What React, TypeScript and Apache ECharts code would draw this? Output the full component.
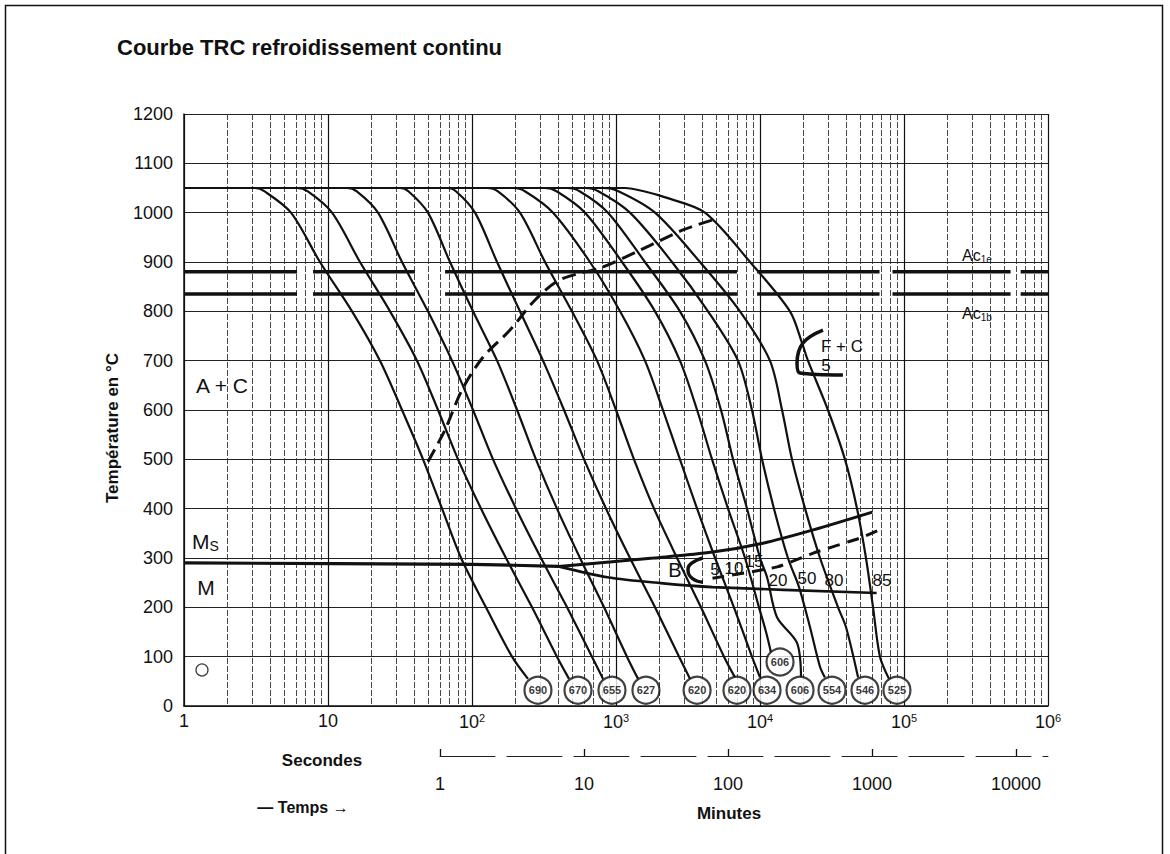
import React, { useEffect, useRef } from "react";
import * as echarts from "echarts";

const FONT = "'Liberation Sans', Arial, Helvetica, sans-serif";

// Axes
const tempMin = 0;
const tempMax = 1200;
const tempStep = 100;
const secMin = 1;
const secMax = 1e6;
const minuteMin = 1;
const minuteMax = 1e6 / 60;
const minuteTicks = [1, 10, 100, 1000, 10000];

// Cooling curves: [log10(time in seconds), temperature °C]
const curve690 = [[0, 1050], [0.493, 1050], [0.56, 1043], [0.743, 1000], [0.944, 900], [1.167, 800], [1.361, 700], [1.514, 600], [1.66, 500], [1.792, 400], [1.924, 300], [2.097, 200], [2.278, 100], [2.389, 55]];
const curve670 = [[0, 1050], [0.785, 1050], [0.86, 1043], [1.028, 1000], [1.222, 900], [1.431, 800], [1.618, 700], [1.764, 600], [1.903, 500], [2.063, 400], [2.236, 300], [2.417, 200], [2.59, 100], [2.674, 55]];
const curve655 = [[0, 1050], [1.132, 1050], [1.2, 1043], [1.347, 1000], [1.514, 900], [1.694, 800], [1.861, 700], [2.007, 600], [2.146, 500], [2.306, 400], [2.479, 300], [2.66, 200], [2.833, 100], [2.91, 55]];
const curve627 = [[0, 1050], [1.5, 1050], [1.56, 1043], [1.694, 1000], [1.847, 900], [2.007, 800], [2.174, 700], [2.313, 600], [2.444, 500], [2.59, 400], [2.75, 300], [2.917, 200], [3.076, 100], [3.153, 55]];
const curve620a = [[0, 1050], [1.826, 1050], [1.89, 1043], [2.021, 1000], [2.174, 900], [2.333, 800], [2.493, 700], [2.639, 600], [2.778, 500], [2.931, 400], [3.097, 300], [3.271, 200], [3.438, 100], [3.514, 55]];
const curve620b = [[0, 1050], [2.104, 1050], [2.18, 1043], [2.333, 1000], [2.507, 900], [2.694, 800], [2.868, 700], [3.0, 600], [3.125, 500], [3.264, 400], [3.424, 300], [3.59, 200], [3.75, 100], [3.826, 58]];
const curve634 = [[0, 1050], [2.285, 1050], [2.37, 1043], [2.563, 1000], [2.819, 900], [3.028, 800], [3.201, 700], [3.326, 600], [3.444, 500], [3.563, 400], [3.688, 300], [3.819, 200], [3.944, 100], [4.0, 58]];
const curve606a = [[0, 1050], [2.507, 1050], [2.59, 1043], [2.785, 1000], [3.042, 900], [3.271, 800], [3.444, 700], [3.563, 600], [3.667, 500], [3.778, 400], [3.896, 300], [3.993, 200], [4.042, 150], [4.076, 109]];
const curve606b = [[0, 1050], [2.66, 1050], [2.75, 1043], [2.944, 1000], [3.201, 900], [3.444, 800], [3.618, 700], [3.729, 600], [3.813, 500], [3.91, 400], [4.0, 300], [4.049, 261], [4.118, 180], [4.257, 128], [4.285, 58]];
const curve554 = [[0, 1050], [2.785, 1050], [2.88, 1043], [3.097, 1000], [3.389, 900], [3.639, 800], [3.847, 700], [3.944, 600], [4.014, 500], [4.097, 400], [4.194, 300], [4.271, 241], [4.347, 160], [4.417, 79], [4.451, 58]];
const curve546 = [[0, 1050], [2.91, 1050], [3.02, 1043], [3.271, 1000], [3.583, 900], [3.861, 800], [4.069, 700], [4.153, 600], [4.222, 500], [4.313, 400], [4.417, 300], [4.542, 200], [4.597, 160], [4.681, 58]];
const curve525 = [[0, 1050], [3.063, 1050], [3.2, 1043], [3.354, 1030], [3.618, 1000], [3.931, 900], [4.208, 800], [4.292, 736], [4.333, 700], [4.472, 600], [4.59, 500], [4.674, 400], [4.736, 300], [4.785, 200], [4.833, 100], [4.896, 55]];

const curves = [curve690, curve670, curve655, curve627, curve620a, curve620b, curve634, curve606a, curve606b, curve554, curve546, curve525];

// Hardness circles (HV)
const hardnessLabels = ["690", "670", "655", "627", "620", "620", "634", "606", "606", "554", "546", "525"];
const hardnessLogTime = [2.458, 2.736, 2.972, 3.208, 3.563, 3.84, 4.049, 4.139, 4.278, 4.5, 4.729, 4.951];
const hardnessTemp = [32, 32, 32, 32, 32, 32, 32, 89, 32, 32, 32, 32];

// Transformation lines [log10(s), °C]
const carbideStart = [[1.694, 495], [1.813, 560], [1.931, 641], [2.076, 707], [2.264, 762], [2.438, 823], [2.611, 864], [2.91, 890], [3.167, 924], [3.465, 965], [3.667, 985]];
const msLine = [[0, 290], [2.0, 287], [2.6, 283]];
const bainiteStart = [[2.6, 283], [3.26, 300], [3.67, 312], [4.02, 330], [4.37, 357], [4.78, 393]];
const bainiteEnd = [[2.6, 283], [2.94, 261], [3.31, 249], [3.67, 241], [4.81, 229]];
const bainiteMid = [[3.67, 259], [4.12, 282], [4.37, 310], [4.69, 340], [4.83, 357]];
const bNose = [[3.604, 300], [3.528, 290], [3.5, 276], [3.528, 259], [3.604, 251]];
const fcNose = [[4.4375, 762], [4.299, 736], [4.257, 695], [4.278, 675], [4.576, 671]];
const ac1e = 880;
const ac1b = 835;
const acSegments = [[0, 0.785], [0.896, 1.604], [1.813, 3.84], [3.98, 4.83], [4.92, 5.74], [5.81, 6]];
const originMark = [[0.125, 73]];

const toSec = (l: number) => Math.pow(10, l);
const toPts = (arr: number[][]) => arr.map(([l, T]) => [toSec(l), T]);

function acData(T: number) {
  const out: any[] = [];
  acSegments.forEach(([a, b], i) => {
    out.push([toSec(a), T], [toSec(b), T]);
    if (i < acSegments.length - 1) out.push([toSec((b + acSegments[i + 1][0]) / 2), "-"]);
  });
  return out;
}

const INK = "#111";

function lineSeries(data: any[], width: number, extra: any = {}) {
  return {
    type: "line",
    data,
    color: INK,
    symbol: "none",
    showSymbol: false,
    silent: true,
    animation: false,
    lineStyle: { color: INK, width, ...(extra.lineStyle || {}) },
    smooth: extra.smooth ?? 0,
    z: extra.z ?? 3,
  };
}

function txt(text: string, x: number, y: number, size: number, extra: any = {}) {
  const { rotation, ...style } = extra;
  return {
    type: "text",
    x,
    y,
    rotation: rotation || 0,
    z: 100,
    silent: true,
    style: {
      text,
      fontSize: size,
      fontFamily: FONT,
      fill: INK,
      align: "center",
      verticalAlign: "middle",
      ...style,
    },
  };
}

function secLabel(v: number) {
  const e = Math.log10(v);
  const n = Math.round(e);
  if (Math.abs(e - n) > 1e-6) return "";
  if (n === 0) return "1";
  if (n === 1) return "10";
  return "10{s|" + n + "}";
}

function minLabel(v: number) {
  const e = Math.log10(v);
  const n = Math.round(e);
  if (Math.abs(e - n) > 1e-6 || n < 0) return "";
  return String(Math.round(v));
}

export default function App() {
  const ref = useRef<HTMLDivElement>(null);

  useEffect(() => {
    if (!ref.current) return;
    const chart = echarts.init(ref.current, null, { renderer: "svg" });

    const series: any[] = [];
    curves.forEach((c) => series.push(lineSeries(toPts(c), 2.2, { smooth: 0.3 })));
    series.push(lineSeries(toPts(carbideStart), 3, { smooth: 0.3, lineStyle: { type: [14, 7] } }));
    series.push(lineSeries(acData(ac1e), 3.5));
    series.push(lineSeries(acData(ac1b), 3.5));
    series.push(lineSeries(toPts(msLine), 3.2, { smooth: 0.2 }));
    series.push(lineSeries(toPts(bainiteStart), 3, { smooth: 0.3 }));
    series.push(lineSeries(toPts(bainiteEnd), 2.6, { smooth: 0.3 }));
    series.push(lineSeries(toPts(bainiteMid), 3, { smooth: 0.2, lineStyle: { type: [12, 8] } }));
    series.push(lineSeries(toPts(bNose), 3.5, { smooth: 0.5 }));
    series.push(lineSeries(toPts(fcNose), 3.5, { smooth: 0.4 }));

    series.push({
      type: "scatter",
      color: "#000",
      data: hardnessLogTime.map((l, i) => [toSec(l), hardnessTemp[i], hardnessLabels[i]]),
      symbol: "circle",
      symbolSize: 27,
      silent: true,
      z: 10,
      itemStyle: { color: "#fff", borderColor: INK, borderWidth: 2.2 },
      label: {
        show: true,
        position: "inside",
        formatter: (p: any) => p.value[2],
        fontSize: 11,
        fontWeight: "bold",
        fontFamily: FONT,
        color: "#000",
        textBorderWidth: 0,
        textBorderColor: "#fff",
      },
    });
    series.push({
      type: "scatter",
      color: "#000",
      data: toPts(originMark),
      symbol: "circle",
      symbolSize: 12,
      silent: true,
      z: 10,
      itemStyle: { color: "#fff", borderColor: INK, borderWidth: 1.3 },
    });

    const option: any = {
      animation: false,
      backgroundColor: "#fff",
      color: ["#111"],
      textStyle: { fontFamily: FONT, color: "#111" },
      grid: [
        { left: 184, top: 114, width: 864, height: 592, containLabel: false },
        { left: 440, top: 700, width: 608, height: 56, containLabel: false },
      ],
      xAxis: [
        {
          type: "log",
          gridIndex: 0,
          logBase: 10,
          min: secMin,
          max: secMax,
          splitNumber: 6,
          position: "bottom",
          axisLine: { show: true, onZero: false, lineStyle: { color: INK, width: 1.5 } },
          axisTick: { show: false },
          axisLabel: {
            formatter: secLabel,
            fontSize: 18,
            color: INK,
            margin: 6,
            fontFamily: FONT,
            rich: { s: { fontSize: 11, fontFamily: FONT, color: INK, padding: [0, 0, 9, 0] } },
          },
          splitLine: { show: true, lineStyle: { color: INK, width: 1.2 } },
          minorTick: { show: false, splitNumber: 9 },
          minorSplitLine: { show: true, lineStyle: { color: "#333", width: 0.9, type: [6, 2] } },
        },
        {
          type: "log",
          gridIndex: 1,
          logBase: 10,
          min: minuteMin,
          max: minuteMax,
          splitNumber: 5,
          position: "bottom",
          axisLine: { show: true, onZero: false, lineStyle: { color: "#222", width: 1, type: [55, 12] } },
          axisTick: { show: true, inside: true, length: 7, customValues: minuteTicks, lineStyle: { color: INK, width: 1.3 } },
          axisLabel: {
            customValues: minuteTicks,
            formatter: minLabel,
            fontSize: 18,
            color: INK,
            margin: 19,
            fontFamily: FONT,
          },
          splitLine: { show: false },
        },
      ],
      yAxis: [
        {
          type: "value",
          gridIndex: 0,
          min: tempMin,
          max: tempMax,
          interval: tempStep,
          axisLine: { show: true, lineStyle: { color: INK, width: 1.5 } },
          axisTick: { show: false },
          axisLabel: { fontSize: 18, color: INK, margin: 11, fontFamily: FONT, formatter: (v: number) => String(v) },
          splitLine: { show: true, lineStyle: { color: "#222", width: 1 } },
        },
        { type: "value", gridIndex: 1, show: false, min: 0, max: 1, splitLine: { show: false } },
      ],
      series,
      graphic: [
        {
          type: "rect",
          silent: true,
          z: 0,
          shape: { x: 5.5, y: 5.5, width: 1157, height: 900 },
          style: { fill: "none", stroke: INK, lineWidth: 1.5 },
        },
        txt("Courbe TRC refroidissement continu", 117, 47, 22, { align: "left", fontWeight: "bold" }),
        txt("Température en °C", 112, 428, 17, { rotation: Math.PI / 2, fontWeight: "bold" }),
        txt("A + C", 222, 385, 21),
        txt("M{s|S}", 192, 541, 21, {
          align: "left",
          rich: { s: { fontSize: 14, fontFamily: FONT, fill: INK, padding: [10, 0, 0, 0] } },
        }),
        txt("M", 206, 587, 21),
        txt("B", 675, 570, 20),
        txt("5", 715, 569, 17),
        txt("10", 734, 568, 17),
        txt("15", 754, 561, 17),
        txt("20", 778, 580, 17),
        txt("50", 807, 578, 17),
        txt("80", 834, 580, 17),
        txt("85", 882, 580, 17),
        txt("F + C", 842, 346, 17),
        txt("5", 826, 365, 17),
        txt("Ac{s|1e}", 962, 255, 16, {
          align: "left",
          rich: { s: { fontSize: 10, fontFamily: FONT, fill: INK, padding: [8, 0, 0, 0] } },
        }),
        txt("Ac{s|1b}", 962, 313, 16, {
          align: "left",
          rich: { s: { fontSize: 10, fontFamily: FONT, fill: INK, padding: [8, 0, 0, 0] } },
        }),
        txt("Secondes", 322, 760, 17, { fontWeight: "bold" }),
        txt("— Temps →", 303, 807, 16, { fontWeight: "bold" }),
        txt("Minutes", 729, 813, 17, { fontWeight: "bold" }),
      ],
    };

    chart.setOption(option);
    return () => chart.dispose();
  }, []);

  return (
    <div
      ref={ref}
      style={{ position: "fixed", left: 0, top: 0, width: 1170, height: 854, background: "#fff" }}
    />
  );
}
